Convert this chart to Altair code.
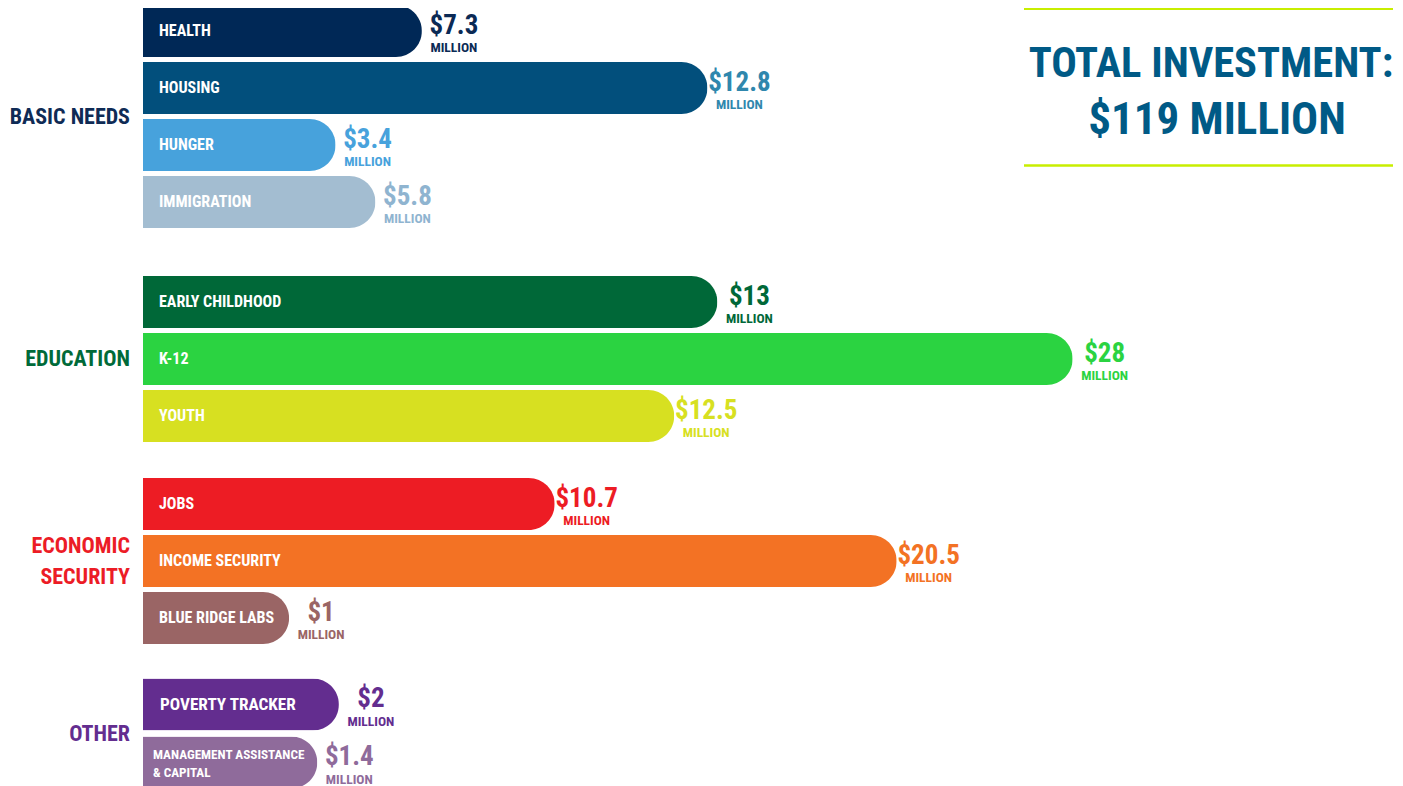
import altair as alt
import pandas as pd

# ---------------- data ----------------
groups = ["BASIC NEEDS", "EDUCATION", "ECONOMIC\nSECURITY", "OTHER"]
group_colors = ["#0f2b55", "#006a39", "#ec1c26", "#632d8f"]

items = [
    "HEALTH", "HOUSING", "HUNGER", "IMMIGRATION",
    "EARLY CHILDHOOD", "K-12", "YOUTH",
    "JOBS", "INCOME SECURITY", "BLUE RIDGE LABS",
    "POVERTY TRACKER", "MANAGEMENT ASSISTANCE\n& CAPITAL",
]
item_group = [0, 0, 0, 0, 1, 1, 1, 2, 2, 2, 3, 3]
amounts = [7.3, 12.8, 3.4, 5.8, 13, 28, 12.5, 10.7, 20.5, 1, 2, 1.4]
# drawn bar lengths (same units, K-12 bar = 28)
bar_length = [8.4, 17.0, 5.8, 7.0, 17.3, 28.0, 16.0, 12.4, 22.7, 4.4, 5.9, 5.25]
bar_colors = ["#002856", "#024f7c", "#47a2dc", "#a3bdd1",
              "#006838", "#2bd341", "#d7e021",
              "#ed1c24", "#f37224", "#9a6565",
              "#632d8f", "#8f6b9b"]
label_colors = ["#0b2a55", "#2f87ad", "#47a2dc", "#8fb4d0",
                "#006838", "#2bd341", "#d7e021",
                "#ed1c24", "#f37224", "#9a6565",
                "#632d8f", "#8f6b9b"]
total_lines = ["TOTAL INVESTMENT:", "$119 MILLION"]
title_color = "#005a86"
accent = "#c8ee00"

F = "'Roboto Condensed', 'Liberation Sans Narrow', 'DejaVu Sans Condensed', 'Arial Narrow', sans-serif"

df = pd.DataFrame({"item": items, "grp": item_group, "amount": amounts,
                   "bar_length": bar_length})
df["amount_label"] = ["$" + f"{a:g}" for a in amounts]

X_DOMAIN = [0, 37.8]
W = 1255
STEP = [57, 57, 57, 58]
EXTRA = [13.5, 2, 0, 0]
GROUP_LH = 31


def panel(g):
    d = df[df.grp == g]
    order = list(d["item"])
    n = len(order)
    rows_h = n * STEP[g]
    H = rows_h + EXTRA[g]
    po = EXTRA[g] / (2 * STEP[g])
    yscale = alt.Scale(domain=order, paddingInner=0, paddingOuter=po, align=0)
    xs = alt.Scale(domain=X_DOMAIN, nice=False, zero=True)
    base = alt.Chart(d).encode(y=alt.Y("item:N", scale=yscale, axis=None))

    bars = base.mark_bar(size=52, cornerRadiusEnd=26).encode(
        x=alt.X("bar_length:Q", scale=xs, axis=None),
        color=alt.Color("item:N", scale=alt.Scale(domain=items, range=bar_colors), legend=None),
    )
    inside = base.transform_filter(
        (alt.datum.item != items[11]) & (alt.datum.item != items[10])
    ).mark_text(
        align="left", baseline="middle", dx=16, color="white", font=F,
        fontWeight="bold", fontSize=16,
    ).encode(x=alt.value(0), text="item:N")
    inside_big = base.transform_filter(alt.datum.item == items[10]).mark_text(
        align="left", baseline="middle", dx=17, color="white", font=F,
        fontWeight="bold", fontSize=17.2,
    ).encode(x=alt.value(0), text="item:N")
    inside2 = base.transform_filter(alt.datum.item == items[11]).mark_text(
        align="left", baseline="middle", dx=10, dy=-7.5, color="white", font=F,
        fontWeight="bold", fontSize=13.2, lineBreak="\n", lineHeight=17.5,
    ).encode(x=alt.value(0), text="item:N")
    fill = alt.Fill("item:N", scale=alt.Scale(domain=items, range=label_colors), legend=None)
    val = base.mark_text(
        align="center", baseline="alphabetic", dx=32, dy=2.5, font=F,
        fontWeight="bold", fontSize=27,
    ).encode(x=alt.X("bar_length:Q", scale=xs, axis=None), text="amount_label:N", fill=fill)
    mil = base.mark_text(
        align="center", baseline="alphabetic", dx=32, dy=21, font=F,
        fontWeight="bold", fontSize=13.5,
    ).encode(x=alt.X("bar_length:Q", scale=xs, axis=None), text=alt.value("MILLION"), fill=fill)

    gdf = pd.DataFrame({"g": [groups[g]]})
    extra_lines = groups[g].count("\n")
    glabel = alt.Chart(gdf).mark_text(
        align="right", baseline="middle", font=F, fontWeight="bold", fontSize=22,
        lineBreak="\n", lineHeight=GROUP_LH, color=group_colors[g],
        dy=-extra_lines * GROUP_LH / 2,
    ).encode(x=alt.value(-13), y=alt.value(rows_h / 2), text="g:N")
    anchor = alt.Chart(gdf).mark_rule(strokeOpacity=0).encode(
        x=alt.value(-135), x2=alt.value(-134), y=alt.value(10))

    layers = [bars, inside, inside_big, inside2, val, mil, glabel, anchor]
    if g == 0:
        tdf = pd.DataFrame({"t": total_lines})
        t1 = alt.Chart(tdf).transform_filter(alt.datum.t == total_lines[0]).mark_text(
            align="center", baseline="alphabetic", font=F, fontWeight="bold",
            fontSize=42.5, color=title_color,
        ).encode(x=alt.value(1068), y=alt.value(74), text="t:N")
        t2 = alt.Chart(tdf).transform_filter(alt.datum.t == total_lines[1]).mark_text(
            align="center", baseline="alphabetic", font=F, fontWeight="bold",
            fontSize=45, color=title_color,
        ).encode(x=alt.value(1074), y=alt.value(131.5), text="t:N")
        r1 = alt.Chart(gdf).mark_rule(color=accent, strokeWidth=2).encode(
            x=alt.value(881), x2=alt.value(1262), y=alt.value(6.5))
        r2 = alt.Chart(gdf).mark_rule(color=accent, strokeWidth=2.5).encode(
            x=alt.value(881), x2=alt.value(1262), y=alt.value(163))
        layers += [t1, t2, r1, r2]
    return alt.layer(*layers).properties(width=W, height=H)


chart = alt.vconcat(*[panel(g) for g in range(4)], spacing=29).resolve_scale(
    x="independent", y="independent"
).properties(
    padding={"left": 0, "top": -5.5, "right": -14, "bottom": 0},
    background="white",
).configure_view(stroke=None)

chart.save("out.html", embed_options={"renderer": "svg", "actions": False})
